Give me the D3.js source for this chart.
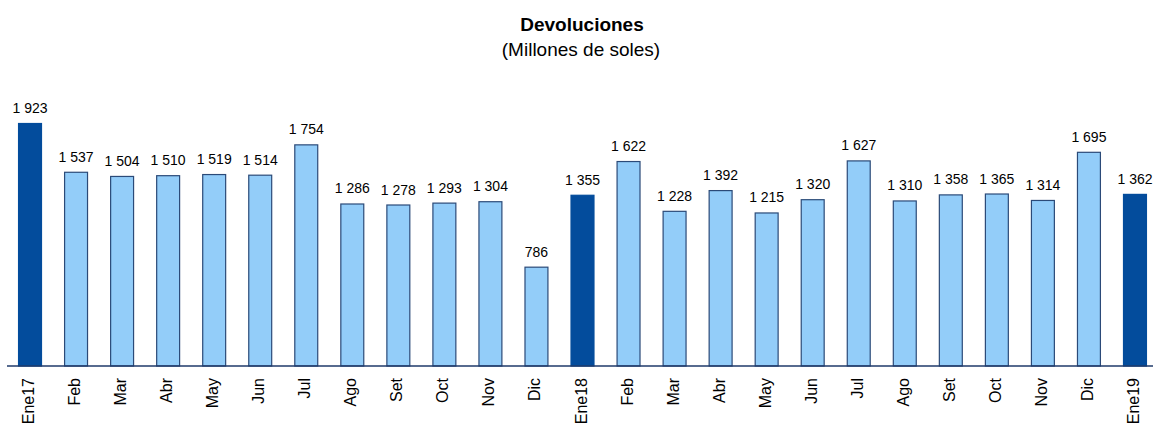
<!DOCTYPE html>
<html>
<head>
<meta charset="utf-8">
<script src="https://cdn.jsdelivr.net/npm/d3@7"></script>
<style>
  body { margin: 0; background: #fff; }
  svg { display: block; font-family: "Liberation Sans", Arial, sans-serif; }
</style>
</head>
<body>
<div id="chart"></div>
<script>
const months = ["Ene17", "Feb", "Mar", "Abr", "May", "Jun", "Jul", "Ago", "Set", "Oct", "Nov", "Dic",
                "Ene18", "Feb", "Mar", "Abr", "May", "Jun", "Jul", "Ago", "Set", "Oct", "Nov", "Dic",
                "Ene19"];
const devoluciones = [1923, 1537, 1504, 1510, 1519, 1514, 1754, 1286, 1278, 1293, 1304, 786,
                      1355, 1622, 1228, 1392, 1215, 1320, 1627, 1310, 1358, 1365, 1314, 1695,
                      1362];
const highlighted = ["Ene17", "Ene18", "Ene19"];

const width = 1153, height = 425;
const baseY = 366;

const svg = d3.select("#chart").append("svg")
    .attr("width", width)
    .attr("height", height);

// title
svg.append("text")
    .attr("x", 582).attr("y", 31)
    .attr("text-anchor", "middle")
    .style("font-size", "19px")
    .style("font-weight", "bold")
    .text("Devoluciones");
svg.append("text")
    .attr("x", 581).attr("y", 56)
    .attr("text-anchor", "middle")
    .style("font-size", "19px")
    .text("(Millones de soles)");

const x = d3.scaleBand()
    .domain(d3.range(months.length))
    .range([7, 1158])
    .paddingInner(0.48)
    .paddingOuter(0.24);

const y = d3.scaleLinear()
    .domain([0, 1923])
    .range([baseY, 123]);

const fmt = v => d3.format(",")(v).replace(/,/g, " ");

const bars = svg.append("g");
bars.selectAll("rect")
    .data(devoluciones)
    .join("rect")
    .attr("x", (d, i) => x(i) + 0.5)
    .attr("y", d => y(d) + 0.5)
    .attr("width", x.bandwidth() - 1)
    .attr("height", d => baseY - y(d) - 0.5)
    .attr("fill", (d, i) => highlighted.includes(months[i]) ? "#034c9c" : "#93cdf9")
    .attr("stroke", (d, i) => highlighted.includes(months[i]) ? "#034c9c" : "#2b4a78")
    .attr("stroke-width", 1.2);

svg.append("g").selectAll("text")
    .data(devoluciones)
    .join("text")
    .attr("x", (d, i) => x(i) + x.bandwidth() / 2)
    .attr("y", d => y(d) - 10)
    .attr("text-anchor", "middle")
    .style("font-size", "14px")
    .text(d => fmt(d));

// baseline
svg.append("line")
    .attr("x1", 7).attr("x2", width)
    .attr("y1", baseY).attr("y2", baseY)
    .attr("stroke", "#1f3a6a")
    .attr("stroke-width", 1.5);

// month labels
svg.append("g").selectAll("text")
    .data(months)
    .join("text")
    .attr("transform", (d, i) => `translate(${x(i) + x.bandwidth() / 2 + 4},${baseY + 12}) rotate(-90)`)
    .attr("text-anchor", "end")
    .style("font-size", "16px")
    .text(d => d);
</script>
</body>
</html>
